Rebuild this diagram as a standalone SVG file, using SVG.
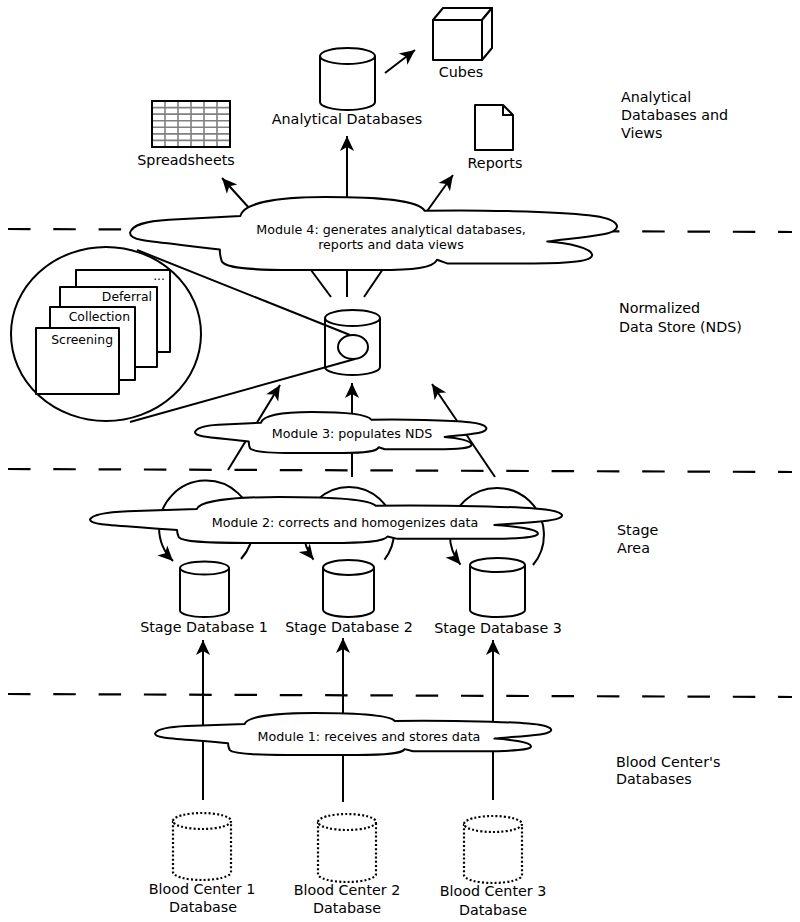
<svg xmlns="http://www.w3.org/2000/svg" xmlns:xlink="http://www.w3.org/1999/xlink" width="800" height="922" viewBox="0 0 800 922">
<style>
text{font-family:"DejaVu Sans","Liberation Sans",sans-serif;fill:#000}
.lbl{font-size:14.3px;text-anchor:middle}
.side{font-size:14.3px}
.mod{font-size:12.7px;text-anchor:middle}
.pg{font-size:12.4px;text-anchor:end}
.sep{stroke:#000;stroke-width:2.2;stroke-dasharray:22.5 22.8;fill:none}
.ln{stroke:#000;stroke-width:2;fill:none}
.arr{stroke:#000;stroke-width:2;fill:none;marker-end:url(#ah)}
.shape{stroke:#000;stroke-width:2;fill:#fff;stroke-linejoin:round}
.dot{stroke:#000;stroke-width:2.2;fill:#fff;stroke-dasharray:2 2.2}
.cloud{stroke:#000;stroke-width:2;fill:#fff;vector-effect:non-scaling-stroke;stroke-linejoin:round}
.grid{stroke:#808080;stroke-width:1.6;fill:none}
</style>
<defs>
<marker id="ah" viewBox="-16 -8 17 16" markerWidth="17" markerHeight="16" refX="0" refY="0" orient="auto" markerUnits="userSpaceOnUse">
<path d="M0,0 L-15,-7 L-11,0 L-15,7 Z" fill="#000"/>
</marker>
<path id="cloudShape" class="cloud" d="M0,49 C5,38 30,33 80,31 C140,29 190,27 226,26 C232,10 290,0 400,0 C510,0 590,4 604,19 C700,17 880,20 940,25 C1010,30 1012,46 970,51 C930,56 880,58 855,61 C900,63 945,70 947,79 C949,88 900,91 827,91 C750,91 680,91 650,91 L629,86 C622,97 580,100 509,100 C420,100 350,100 332,100 C240,100 195,97 188,88 C185,82 184,77 184,72 C130,67 60,63 25,59 C8,57 0,53 0,49 Z"/>
</defs>
<rect width="800" height="922" fill="#fff"/>

<g id="separators">
<line class="sep" x1="8" y1="229" x2="792" y2="232"/>
<line class="sep" x1="8" y1="469" x2="792" y2="472"/>
<line class="sep" x1="8" y1="694" x2="792" y2="697"/>
</g>

<g id="connectors">
<line class="arr" x1="250" y1="209" x2="222" y2="178"/>
<line class="arr" x1="347" y1="200" x2="347" y2="136"/>
<line class="arr" x1="425" y1="214" x2="453" y2="175"/>
<line class="arr" x1="385" y1="73" x2="415" y2="50"/>
<line class="ln" x1="308" y1="266" x2="331" y2="297"/>
<line class="ln" x1="347" y1="266" x2="347" y2="297"/>
<line class="ln" x1="385" y1="266" x2="364" y2="297"/>
<line class="ln" x1="137" y1="250" x2="350" y2="335"/>
<line class="ln" x1="130" y1="422" x2="355" y2="359"/>
<line class="arr" x1="228" y1="470" x2="280" y2="385"/>
<line class="arr" x1="352" y1="477" x2="352" y2="383"/>
<line class="arr" x1="495" y1="477" x2="432" y2="384"/>
<path class="arr" d="M241,559 A47,47 0 1 0 173,561"/>
<path class="arr" d="M384.5,559.6 A45,45 0 1 0 313.5,559.6"/>
<path class="arr" d="M533,565 A47,47 0 1 0 460.5,564.6"/>
<line class="arr" x1="203" y1="800" x2="203" y2="640"/>
<line class="arr" x1="343" y1="802" x2="343" y2="638"/>
<line class="arr" x1="493" y1="800" x2="493" y2="640"/>
</g>

<g id="module4">
<use xlink:href="#cloudShape" transform="translate(130,197) scale(0.488,0.73)"/>
<text class="mod" x="391" y="233.5">Module 4: generates analytical databases,</text>
<text class="mod" x="391" y="249">reports and data views</text>
</g>
<g id="module3">
<use xlink:href="#cloudShape" transform="translate(195,412) scale(0.292,0.41)"/>
<text class="mod" x="352" y="437.5">Module 3: populates NDS</text>
</g>
<g id="module2">
<use xlink:href="#cloudShape" transform="translate(90,497) scale(0.473,0.46)"/>
<text class="mod" x="345" y="526.5">Module 2: corrects and homogenizes data</text>
</g>
<g id="module1">
<use xlink:href="#cloudShape" transform="translate(155,713) scale(0.397,0.42)"/>
<text class="mod" x="369" y="740.5">Module 1: receives and stores data</text>
</g>

<g id="spreadsheets">
<rect x="152" y="101" width="78" height="46" fill="#fff"/>
<path class="grid" d="M165,101V147M178,101V147M191,101V147M204,101V147M217,101V147M152,107.6H230M152,114.1H230M152,120.7H230M152,127.3H230M152,133.9H230M152,140.4H230"/>
<rect x="152" y="101" width="78" height="46" fill="none" stroke="#000" stroke-width="2"/>
<text class="lbl" x="186" y="165">Spreadsheets</text>
</g>

<g id="analytical-db">
<path class="shape" d="M320,56 V102 A27.5,8 0 0 0 375,102 V56"/>
<ellipse class="shape" cx="347.5" cy="56" rx="27.5" ry="8"/>
<text class="lbl" x="347" y="124">Analytical Databases</text>
</g>

<g id="cubes">
<rect class="shape" x="433" y="20" width="49" height="40"/>
<path class="shape" d="M433,20 L443,8 H492 L482,20 Z"/>
<path class="shape" d="M482,20 L492,8 V48 L482,60 Z"/>
<text class="lbl" x="461" y="77">Cubes</text>
</g>

<g id="reports">
<path class="shape" d="M475,105 H503 L513,115 V150 H475 Z"/>
<path class="ln" d="M503,105 V115 H513"/>
<text class="lbl" x="495" y="168">Reports</text>
</g>

<g id="nds">
<path d="M325,318 V367 A27.5,8 0 0 0 380,367 V318" fill="none" stroke="#000" stroke-width="2"/>
<ellipse cx="352.5" cy="318" rx="27.5" ry="8" fill="none" stroke="#000" stroke-width="2"/>
<ellipse cx="353" cy="347" rx="15" ry="12" fill="none" stroke="#000" stroke-width="2"/>
</g>

<g id="nds-zoom">
<ellipse class="shape" cx="106" cy="334" rx="95" ry="87"/>
<rect class="shape" x="76" y="270" width="94" height="82"/>
<text class="pg" x="165" y="280">...</text>
<rect class="shape" x="60" y="287" width="97" height="80"/>
<text class="pg" x="152" y="300.5">Deferral</text>
<rect class="shape" x="50" y="307" width="85" height="73"/>
<text class="pg" x="130" y="320.5">Collection</text>
<rect class="shape" x="36" y="328" width="83" height="66"/>
<text class="pg" x="113" y="343.5">Screening</text>
</g>

<g id="stage-db-1">
<path class="shape" d="M180,568 V610.5 A24.5,6.5 0 0 0 229,610.5 V568"/>
<ellipse class="shape" cx="204.5" cy="568" rx="24.5" ry="6.5"/>
<text class="lbl" x="204" y="632">Stage Database 1</text>
</g>
<g id="stage-db-2">
<path class="shape" d="M323,567.5 V609.5 A25.5,7.5 0 0 0 374,609.5 V567.5"/>
<ellipse class="shape" cx="348.5" cy="567.5" rx="25.5" ry="7.5"/>
<text class="lbl" x="349" y="632">Stage Database 2</text>
</g>
<g id="stage-db-3">
<path class="shape" d="M470,565 V610 A27.5,7 0 0 0 525,610 V565"/>
<ellipse class="shape" cx="497.5" cy="565" rx="27.5" ry="7"/>
<text class="lbl" x="498" y="633">Stage Database 3</text>
</g>

<g id="bc-db-1">
<path class="dot" d="M173,821 V872 A29,8 0 0 0 231,872 V821"/>
<ellipse class="dot" cx="202" cy="821" rx="29" ry="8"/>
<text class="lbl" x="202" y="894">Blood Center 1</text>
<text class="lbl" x="203" y="912">Database</text>
</g>
<g id="bc-db-2">
<path class="dot" d="M318,822 V874 A29,8 0 0 0 376,874 V822"/>
<ellipse class="dot" cx="347" cy="822" rx="29" ry="8"/>
<text class="lbl" x="347" y="895">Blood Center 2</text>
<text class="lbl" x="347" y="913">Database</text>
</g>
<g id="bc-db-3">
<path class="dot" d="M464,824 V875 A29,8 0 0 0 522,875 V824"/>
<ellipse class="dot" cx="493" cy="824" rx="29" ry="8"/>
<text class="lbl" x="493" y="896">Blood Center 3</text>
<text class="lbl" x="493" y="915">Database</text>
</g>

<g id="layer-labels">
<text class="side" x="621" y="102">Analytical</text>
<text class="side" x="621" y="120">Databases and</text>
<text class="side" x="621" y="138">Views</text>
<text class="side" x="619" y="313">Normalized</text>
<text class="side" x="619" y="332">Data Store (NDS)</text>
<text class="side" x="617" y="535">Stage</text>
<text class="side" x="617" y="553">Area</text>
<text class="side" x="616" y="767">Blood Center's</text>
<text class="side" x="616" y="784">Databases</text>
</g>
</svg>
